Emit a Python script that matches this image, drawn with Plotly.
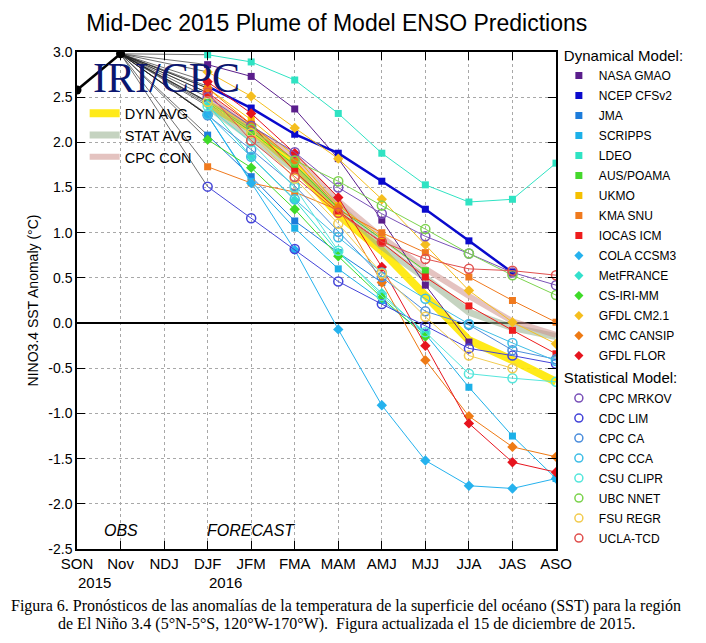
import plotly.graph_objects as go

# ---------------- data ----------------
seasons = ["SON", "Nov", "NDJ", "DJF", "JFM", "FMA", "MAM", "AMJ", "MJJ", "JJA", "JAS", "ASO"]
forecast_seasons = ["DJF", "JFM", "FMA", "MAM", "AMJ", "MJJ", "JJA", "JAS", "ASO"]
obs_seasons = ["SON", "Nov"]
obs_values = [2.58, 2.98]

y_tick_values = [3.0, 2.5, 2.0, 1.5, 1.0, 0.5, 0.0, -0.5, -1.0, -1.5, -2.0, -2.5]
y_tick_labels = ["3.0", "2.5", "2.0", "1.5", "1.0", "0.5", "0.0", "-0.5", "-1.0", "-1.5", "-2.0", "-2.5"]

# Dynamical models (DJF ... ASO)
nasa_gmao = [2.86, 2.73, 2.37, 1.82, 1.14, 0.42, -0.21]
ncep_cfsv2 = [2.62, 2.38, 2.09, 1.88, 1.57, 1.26, 0.91, 0.56]
jma = [2.08, 1.62, 1.13, 0.78, 0.45]
scripps = [2.30, 1.57, 1.05, 0.60, 0.25, -0.12, -0.71, -1.25, -1.72]
ldeo = [2.97, 2.89, 2.69, 2.32, 1.88, 1.53, 1.34, 1.37, 1.77]
aus_poama = [2.44, 2.12, 1.75, 1.27, 0.93, 0.58]
ukmo = [2.60, 2.25, 1.85, 1.30, 0.95]
kma_snu = [1.73, 1.55, 1.45, 1.25, 1.00, 0.78, 0.51, 0.25, 0.01]
iocas_icm = [2.55, 2.20, 1.68, 1.24, 0.89, 0.51, 0.19, -0.08, -0.34]
cola_ccsm3 = [2.30, 1.55, 0.81, -0.07, -0.91, -1.52, -1.80, -1.83, -1.72]
metfrance = [2.42, 1.84, 1.36, 0.78, 0.33, -0.12]
cs_iri_mm = [2.03, 1.72, 1.26, 0.74, 0.28, -0.15]
gfdl_cm21 = [2.78, 2.51, 2.16, 1.82, 1.37, 0.87, 0.36, 0.01, -0.23]
cmc_cansip = [2.60, 2.20, 1.80, 1.28, 0.45, -0.41, -1.03, -1.37, -1.48]
gfdl_flor = [2.67, 2.32, 1.88, 1.39, 0.62, -0.25, -1.11, -1.54, -1.65]

# Statistical models
cpc_mrkov = [2.50, 2.18, 1.89, 1.50, 1.21, 0.96, 0.77, 0.56, 0.42]
cdc_lim = [1.51, 1.16, 0.82, 0.46, 0.21, -0.03, -0.28, -0.36, -0.45]
cpc_ca = [2.30, 1.92, 1.52, 1.01, 0.51, 0.13, -0.02, -0.30, -0.40]
cpc_cca = [2.31, 1.84, 1.37, 0.95, 0.56, 0.27, -0.01, -0.22, -0.42]
csu_clipr = [2.40, 2.00, 1.50, 0.80, 0.30, -0.10, -0.56, -0.61, -0.65]
ubc_nnet = [2.45, 2.15, 1.80, 1.57, 1.30, 1.04, 0.77, 0.53, 0.31]
fsu_regr = [2.45, 2.10, 1.60, 1.10, 0.55, 0.07, -0.36, -0.50]
ucla_tcd = [2.55, 2.02, 1.62, 1.22, 0.90, 0.71, 0.60, 0.58, 0.53]

# Averages
dyn_avg = [2.42, 2.15, 1.74, 1.20, 0.80, 0.30, -0.19, -0.41, -0.65]
stat_avg = [2.40, 2.05, 1.70, 1.30, 0.85, 0.50, 0.12, -0.05, -0.15]
cpc_con = [2.50, 2.15, 1.85, 1.35, 0.95, 0.60, 0.30, 0.02, -0.13]

dyn_models = [
    ("NASA GMAO", nasa_gmao, "#5A1E8C", "square"),
    ("NCEP CFSv2", ncep_cfsv2, "#0A0ACD", "square"),
    ("JMA", jma, "#1C7CDB", "square"),
    ("SCRIPPS", scripps, "#1CB0E8", "square"),
    ("LDEO", ldeo, "#2FE3C3", "square"),
    ("AUS/POAMA", aus_poama, "#45D82C", "square"),
    ("UKMO", ukmo, "#F5C000", "square"),
    ("KMA SNU", kma_snu, "#F07A1E", "square"),
    ("IOCAS ICM", iocas_icm, "#EE1C1C", "square"),
    ("COLA CCSM3", cola_ccsm3, "#25B2EE", "diamond"),
    ("MetFRANCE", metfrance, "#33E0CC", "diamond"),
    ("CS-IRI-MM", cs_iri_mm, "#3EDB28", "diamond"),
    ("GFDL CM2.1", gfdl_cm21, "#F5BE1E", "diamond"),
    ("CMC CANSIP", cmc_cansip, "#EE7A14", "diamond"),
    ("GFDL FLOR", gfdl_flor, "#E6141E", "diamond"),
]
stat_models = [
    ("CPC MRKOV", cpc_mrkov, "#7A52B8"),
    ("CDC LIM", cdc_lim, "#4444D8"),
    ("CPC CA", cpc_ca, "#4C8EDC"),
    ("CPC CCA", cpc_cca, "#40BEE6"),
    ("CSU CLIPR", csu_clipr, "#55E6DC"),
    ("UBC NNET", ubc_nnet, "#7CD34E"),
    ("FSU REGR", fsu_regr, "#F2CC50"),
    ("UCLA-TCD", ucla_tcd, "#E0504E"),
]
averages = [
    ("DYN AVG", dyn_avg, "rgba(255,232,0,0.9)", 8),
    ("STAT AVG", stat_avg, "rgba(150,175,140,0.55)", 7),
    ("CPC CON", cpc_con, "rgba(205,145,140,0.55)", 6),
]

sx = {s: i for i, s in enumerate(seasons)}
fx = [sx[s] for s in forecast_seasons]
nov_x = sx["Nov"]
nov_val = obs_values[obs_seasons.index("Nov")]

fig = go.Figure()

# connectors from last observation to first forecast
all_series = [m[1] for m in dyn_models] + [m[1] for m in stat_models]
cx, cy = [], []
for vals in all_series:
    cx += [nov_x, fx[0], None]
    cy += [nov_val, vals[0], None]
fig.add_trace(go.Scatter(x=cx, y=cy, mode="lines", line=dict(color="rgba(30,30,30,0.8)", width=0.8),
                         showlegend=False, hoverinfo="skip"))

# averages
for name, vals, col, w in averages:
    fig.add_trace(go.Scatter(x=fx[:len(vals)], y=vals, mode="lines", name=name,
                             line=dict(color=col, width=w), legend="legend2"))

# model lines
for name, vals, col, sym in dyn_models:
    lw = 2.5 if name == "NCEP CFSv2" else 1
    fig.add_trace(go.Scatter(x=fx[:len(vals)], y=vals, mode="lines+markers", name=name,
                             line=dict(color=col, width=lw),
                             marker=dict(symbol=sym, size=7 if sym == "square" else 8, color=col),
                             showlegend=False))
for name, vals, col in stat_models:
    fig.add_trace(go.Scatter(x=fx[:len(vals)], y=vals, mode="lines+markers", name=name,
                             line=dict(color=col, width=1),
                             marker=dict(symbol="circle-open", size=9, color=col, line=dict(width=1.5, color=col)),
                             showlegend=False))

# legend-only marker entries
for i, (name, vals, col, sym) in enumerate(dyn_models):
    fig.add_trace(go.Scatter(x=[None], y=[None], mode="markers", name=name,
                             marker=dict(symbol=sym, size=7, color=col), legendgroup=name,
                             legendgrouptitle_text="Dynamical Model:" if i == 0 else None))
for i, (name, vals, col) in enumerate(stat_models):
    fig.add_trace(go.Scatter(x=[None], y=[None], mode="markers", name=name,
                             marker=dict(symbol="circle-open", size=8, color=col, line=dict(width=1.5, color=col)),
                             legendgroup=name,
                             legendgrouptitle_text="Statistical Model:" if i == 0 else None))

# observations
fig.add_trace(go.Scatter(x=[sx[s] for s in obs_seasons], y=obs_values, mode="lines+markers",
                         line=dict(color="black", width=2.5), marker=dict(color="black", size=9),
                         showlegend=False))

font_family = "Liberation Sans, Arial, sans-serif"
serif = "Liberation Serif, Times New Roman, serif"
fig.update_layout(
    width=706, height=643,
    margin=dict(l=77, r=133, t=52, b=94),
    paper_bgcolor="white", plot_bgcolor="white",
    font=dict(family=font_family, color="black"),
    title=dict(text="Mid-Dec 2015 Plume of Model ENSO Predictions", x=0.477, xanchor="center",
               y=0.964, yanchor="middle", font=dict(size=23, family=font_family)),
    legend=dict(x=1.006, y=1.027, xanchor="left", yanchor="top", font=dict(size=12),
                grouptitlefont=dict(size=15), tracegroupgap=1, bgcolor="rgba(0,0,0,0)",
                traceorder="grouped", itemwidth=30, maxheight=630),
    legend2=dict(x=0.016, y=0.909, xanchor="left", yanchor="top", font=dict(size=14.5),
                 bgcolor="rgba(0,0,0,0)", itemwidth=30),
    showlegend=True,
)
fig.update_xaxes(range=[0, 11], tickmode="array", tickvals=list(range(len(seasons))), ticktext=seasons,
                 ticks="inside", ticklen=8, tickwidth=1.2, tickcolor="black",
                 showline=True, linecolor="black", linewidth=1.5, mirror="ticks",
                 showgrid=True, gridcolor="#a8a8a8", griddash="dot", gridwidth=1,
                 tickfont=dict(size=15), zeroline=False)
fig.update_yaxes(range=[-2.5, 3.0], tickmode="array", tickvals=y_tick_values, ticktext=y_tick_labels,
                 ticks="inside", ticklen=8, tickwidth=1.2, tickcolor="black",
                 showline=True, linecolor="black", linewidth=1.5, mirror="ticks",
                 showgrid=True, gridcolor="#a8a8a8", griddash="dot", gridwidth=1,
                 zeroline=True, zerolinecolor="black", zerolinewidth=2,
                 tickfont=dict(size=14),
                 title=dict(text="NINO3.4 SST Anomaly (°C)", font=dict(size=14), standoff=6))

annotations = [
    dict(x=sx["Nov"], y=-2.3, xref="x", yref="y", text="<i>OBS</i>", showarrow=False, font=dict(size=16)),
    dict(x=sx["JFM"], y=-2.3, xref="x", yref="y", text="<i>FORECAST</i>", showarrow=False, font=dict(size=16)),
    dict(x=0.4, y=-0.068, xref="x", yref="paper", text="2015", showarrow=False, font=dict(size=15), yanchor="middle"),
    dict(x=3.4, y=-0.068, xref="x", yref="paper", text="2016", showarrow=False, font=dict(size=15), yanchor="middle"),
    dict(x=2.05, y=2.71, xref="x", yref="y", text="IRI/CPC", showarrow=False,
         font=dict(size=42, family=serif, color="#0B1670")),
    dict(x=0.5625, y=-0.1147, xref="paper", yref="paper", xanchor="center", yanchor="middle", showarrow=False,
         text="Figura 6. Pronósticos de las anomalías de la temperatura de la superficie del océano (SST) para la región",
         font=dict(size=16, family=serif)),
    dict(x=0.5625, y=-0.151, xref="paper", yref="paper", xanchor="center", yanchor="middle", showarrow=False,
         text="de El Niño 3.4 (5°N-5°S, 120°W-170°W).  Figura actualizada el 15 de diciembre de 2015.",
         font=dict(size=16, family=serif)),
]
fig.update_layout(annotations=annotations)
fig.write_html("out.html")
